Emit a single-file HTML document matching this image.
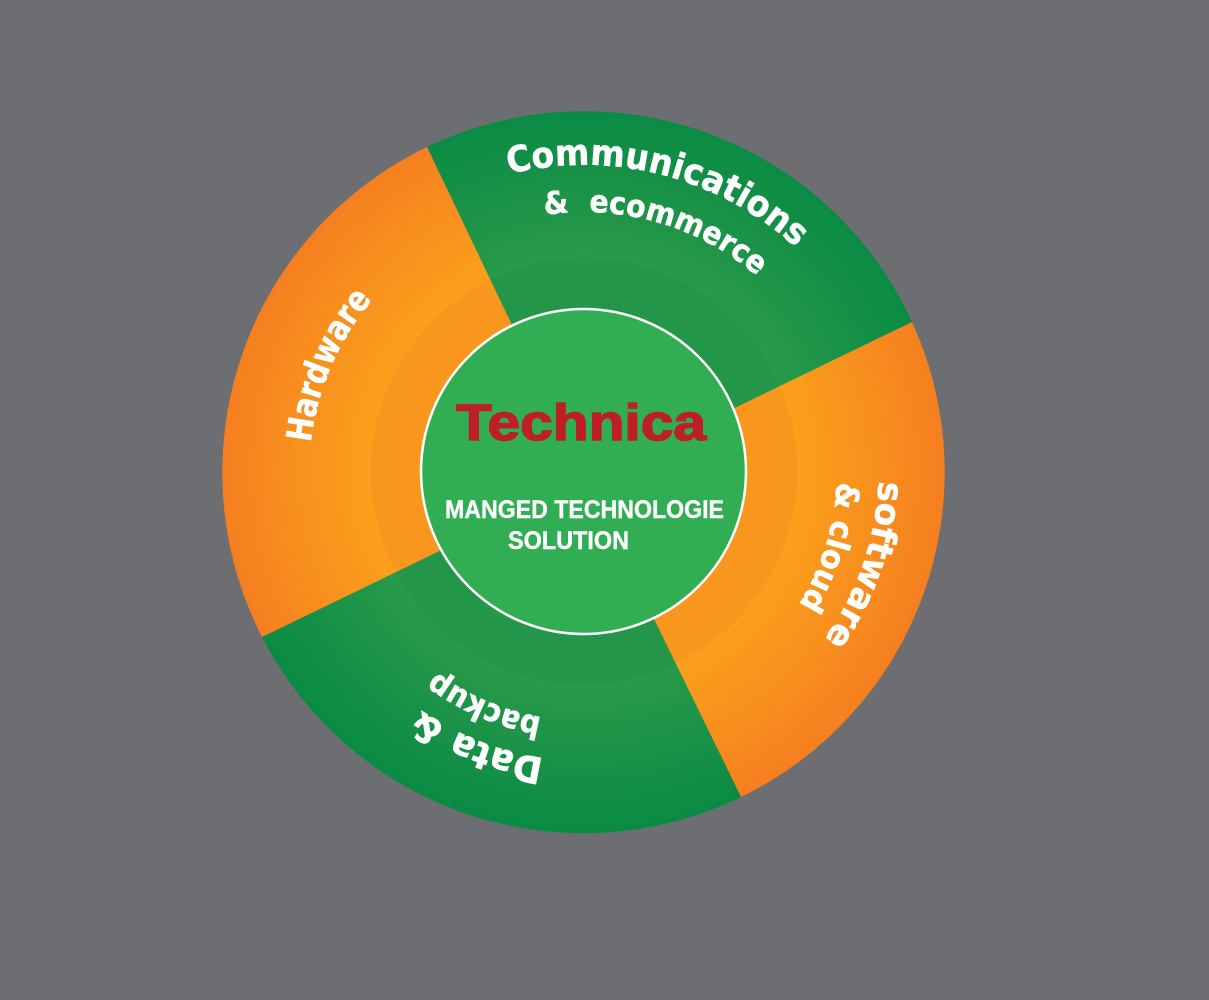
<!DOCTYPE html>
<html>
<head>
<meta charset="utf-8">
<style>
html,body{margin:0;padding:0;background:#6d6e71;width:1209px;height:1000px;overflow:hidden}
svg{display:block}
.c{font-family:"DejaVu Sans",sans-serif;font-weight:700;fill:#fff;stroke:#fff;stroke-width:.5}
.m{font-family:"Liberation Sans",sans-serif;font-weight:700;fill:#fff;stroke:#fff;stroke-width:.4;font-size:25px}
</style>
</head>
<body>
<svg width="1209" height="1000" viewBox="0 0 1209 1000" xmlns="http://www.w3.org/2000/svg">
<defs>
<radialGradient id="o" gradientUnits="userSpaceOnUse" cx="584" cy="471" r="361">
<stop offset="0" stop-color="#f7941e"/>
<stop offset="0.588" stop-color="#f8971d"/>
<stop offset="0.594" stop-color="#faa01b"/>
<stop offset="0.8" stop-color="#f8901e"/>
<stop offset="1" stop-color="#f57f20"/>
</radialGradient>
<radialGradient id="g" gradientUnits="userSpaceOnUse" cx="584" cy="471" r="361">
<stop offset="0" stop-color="#23964a"/>
<stop offset="0.588" stop-color="#23964a"/>
<stop offset="0.594" stop-color="#29994a"/>
<stop offset="1" stop-color="#0a8b44"/>
</radialGradient>
<path id="p1" d="M509.3 174 A313 313 0 0 1 855 321.5"/>
<path id="p2" d="M544.7 215 A266 266 0 0 1 814.4 345"/>
<path id="p3" d="M310.8 442.7 A272 272 0 0 1 488 218.4"/>
<path id="p4" d="M878.7 481 A295 295 0 0 1 731.5 723.6"/>
<path id="p5" d="M836.8 482 A253 253 0 0 1 710.5 690"/>
<path id="p6" d="M544 758 A287 287 0 0 1 314.3 572"/>
<path id="p7" d="M541.8 717.3 A248 248 0 0 1 351 557.8"/>
</defs>
<rect width="1209" height="1000" fill="#6d6e71"/>
<path d="M427 147 A361 361 0 0 1 912 322 L586 480 Z" fill="url(#g)"/>
<path d="M912 322 A361 361 0 0 1 741 797 L586 480 Z" fill="url(#o)"/>
<path d="M741 797 A361 361 0 0 1 262 637 L586 480 Z" fill="url(#g)"/>
<path d="M262 637 A361 361 0 0 1 427 147 L586 480 Z" fill="url(#o)"/>
<circle cx="583.5" cy="471.5" r="162.5" fill="#31ae53" stroke="#fff" stroke-width="2.5"/>

<text class="c" font-size="36"><textPath href="#p1" textLength="308" lengthAdjust="spacingAndGlyphs">Communications</textPath></text>
<text class="c" font-size="31"><textPath href="#p2" textLength="228" lengthAdjust="spacingAndGlyphs">&amp;&#160;&#160;ecommerce</textPath></text>
<text class="c" font-size="35"><textPath href="#p3" textLength="158" lengthAdjust="spacingAndGlyphs">Hardware</textPath></text>
<text class="c" font-size="35"><textPath href="#p4" textLength="170" lengthAdjust="spacingAndGlyphs">software</textPath></text>
<text class="c" font-size="32"><textPath href="#p5" textLength="130" lengthAdjust="spacingAndGlyphs">&amp; cloud</textPath></text>
<text class="c" font-size="37"><textPath href="#p6" textLength="134" lengthAdjust="spacingAndGlyphs">Data &amp;</textPath></text>
<text class="c" font-size="32"><textPath href="#p7" textLength="116" lengthAdjust="spacingAndGlyphs">backup</textPath></text>

<text x="456" y="440" font-family="'Liberation Sans',sans-serif" font-weight="700" font-size="51" fill="#be1e26" stroke="#be1e26" stroke-width="1.5" textLength="250" lengthAdjust="spacingAndGlyphs">Technica</text>
<text class="m" x="445" y="518" textLength="279" lengthAdjust="spacingAndGlyphs">MANGED TECHNOLOGIE</text>
<text class="m" x="508" y="549" textLength="121" lengthAdjust="spacingAndGlyphs">SOLUTION</text>
</svg>
</body>
</html>
